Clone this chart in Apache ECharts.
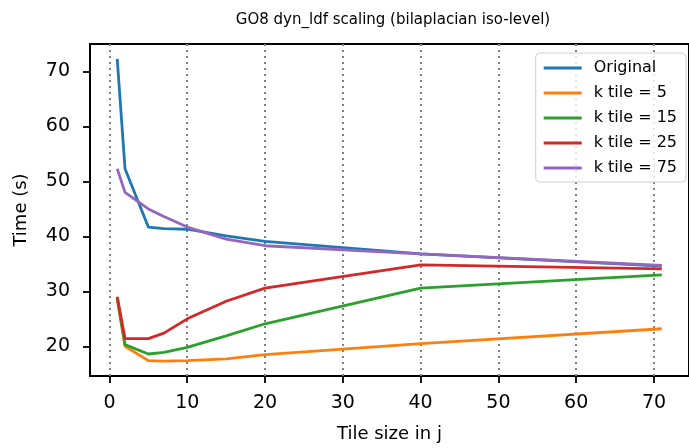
<!DOCTYPE html>
<html>
<head>
<meta charset="utf-8">
<script src="https://cdn.jsdelivr.net/npm/echarts@6/dist/echarts.min.js"></script>
<style>
  html, body { margin: 0; padding: 0; background: #fff; }
  #chart { width: 689px; height: 448px; }
</style>
</head>
<body>
<div id="chart"></div>
<script>
// tile sizes in j
var tileSizes = [1, 2, 5, 7, 10, 15, 20, 40, 71];
// times in seconds
var original = [72.3, 52.3, 41.7, 41.4, 41.3, 40.1, 39.1, 36.8, 34.6];
var kTile5   = [28.6, 20.0, 17.4, 17.3, 17.4, 17.7, 18.5, 20.5, 23.2];
var kTile15  = [28.8, 20.3, 18.6, 18.9, 19.8, 21.9, 24.1, 30.6, 33.0];
var kTile25  = [29.0, 21.4, 21.4, 22.4, 25.0, 28.2, 30.6, 34.8, 34.1];
var kTile75  = [52.3, 48.0, 45.0, 43.6, 41.7, 39.5, 38.3, 36.8, 34.7];

var seriesNames = ['Original', 'k tile = 5', 'k tile = 15', 'k tile = 25', 'k tile = 75'];
var colors = ['#1f77b4', '#ff7f0e', '#2ca02c', '#d62728', '#9467bd'];
var xTicks = [0, 10, 20, 30, 40, 50, 60, 70];
var yTicks = [20, 30, 40, 50, 60, 70];

var myChart = echarts.init(document.getElementById('chart'));

function pairs(vals) {
    return tileSizes.map(function (x, i) { return [x, vals[i]]; });
}

var allValues = [original, kTile5, kTile15, kTile25, kTile75];
var series = allValues.map(function (vals, i) {
    var s = {
        name: seriesNames[i],
        type: 'line',
        data: pairs(vals),
        symbol: 'none',
        lineStyle: { width: 2.8, color: colors[i] },
        itemStyle: { color: colors[i] },
        animation: false
    };
    if (i === 0) {
        // dotted vertical grid lines
        s.markLine = {
            silent: true,
            symbol: 'none',
            label: { show: false },
            z: 1,
            lineStyle: { color: '#808080', type: [2, 4], width: 2 },
            data: xTicks.map(function (v) { return { xAxis: v }; }),
            animation: false
        };
    }
    return s;
});

var tickFont = { fontFamily: 'DejaVu Sans', fontSize: 19, color: '#000' };
var nameFont = { fontFamily: 'DejaVu Sans', fontSize: 18, color: '#000' };

var option = {
    backgroundColor: '#fff',
    title: {
        text: 'GO8 dyn_ldf scaling (bilaplacian iso-level)',
        left: 388,
        textAlign: 'center',
        top: 8,
        textStyle: { fontFamily: 'DejaVu Sans', fontSize: 15, fontWeight: 'normal', color: '#000' }
    },
    legend: {
        data: seriesNames,
        orient: 'vertical',
        right: 3,
        top: 53,
        icon: 'rect',
        itemWidth: 38,
        itemHeight: 3,
        itemGap: 7,
        padding: [6, 9, 5, 8],
        borderColor: '#d0d0d0',
        borderWidth: 1,
        borderRadius: 4,
        backgroundColor: 'rgba(255,255,255,0.8)',
        textStyle: { fontFamily: 'DejaVu Sans', fontSize: 16, lineHeight: 18, color: '#000', padding: [0, 0, 0, 7] }
    },
    grid: {
        left: 90,
        top: 44,
        width: 604,
        height: 333,
        show: true,
        borderColor: '#000',
        borderWidth: 2,
        backgroundColor: 'transparent'
    },
    xAxis: {
        type: 'value',
        min: -2.5,
        max: 74.5,
        name: 'Tile size in j',
        nameLocation: 'middle',
        nameGap: 49,
        nameTextStyle: nameFont,
        axisLine: { show: true, onZero: false, lineStyle: { color: '#000', width: 2 } },
        axisTick: { show: true, length: 7, lineStyle: { color: '#000', width: 1.8 }, customValues: xTicks },
        axisLabel: Object.assign({ margin: 18, customValues: xTicks }, tickFont),
        splitLine: { show: false }
    },
    yAxis: {
        type: 'value',
        min: 14.6,
        max: 75,
        name: 'Time (s)',
        nameLocation: 'middle',
        nameGap: 60,
        nameTextStyle: nameFont,
        axisLine: { show: true, onZero: false, lineStyle: { color: '#000', width: 2 } },
        axisTick: { show: true, length: 7, lineStyle: { color: '#000', width: 1.8 }, customValues: yTicks },
        axisLabel: Object.assign({ margin: 20, customValues: yTicks }, tickFont),
        splitLine: { show: false }
    },
    series: series
};

myChart.setOption(option, true);
</script>
</body>
</html>
